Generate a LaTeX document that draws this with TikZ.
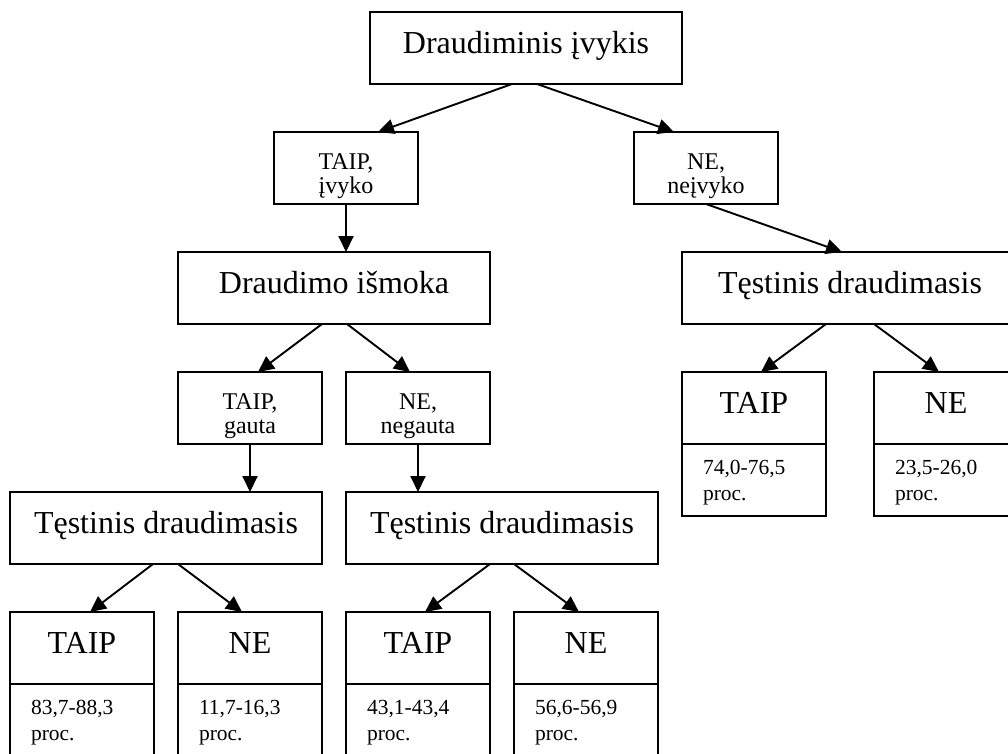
\documentclass[tikz,border=0pt]{standalone}
\usepackage{fontspec}
\setmainfont{Liberation Serif}
\usetikzlibrary{positioning,arrows.meta}

\tikzset{
  box/.style={draw, line width=1.9pt, inner sep=0pt, outer sep=0pt, minimum height=72pt},
  bigbox/.style={box, minimum width=312pt, font=\fontsize{32}{36}\selectfont, text height=22pt, text depth=12pt},
  yesno/.style={box, minimum width=144pt, text width=144pt, align=center, font=\fontsize{24}{24}\selectfont, text height=18pt, text depth=16pt},
  answer/.style={box, minimum width=144pt, font=\fontsize{32}{36}\selectfont, text height=22pt, text depth=12pt},
  share/.style={box, minimum width=144pt, text width=102pt, inner xsep=21pt, align=left, font=\fontsize{21.5}{26}\selectfont, text height=14pt, text depth=26pt},
  link/.style={line width=1.9pt, -{Triangle[length=16pt,width=15pt]}}
}

\begin{document}
\begin{tikzpicture}[x=1pt,y=-1pt]
        \useasboundingbox (0,0) rectangle (1008,753);

        % Top of the tree
        \node[bigbox, anchor=north west] (event) at (370,12) {Draudiminis įvykis};
        \node[yesno, anchor=north west] (happened) at (274,132) {TAIP,\\įvyko};
        \node[yesno, anchor=north west] (nothappened) at (634,132) {NE,\\neįvyko};

        % Second level
        \node[bigbox, anchor=north west] (payout) at (178,252) {Draudimo išmoka};
        \node[bigbox, anchor=north west, minimum width=336pt] (contR) at (682,252) {Tęstinis draudimasis};
        \node[yesno, anchor=north west] (got) at (178,372) {TAIP,\\gauta};
        \node[yesno, anchor=north west] (notgot) at (346,372) {NE,\\negauta};

        % Answers on the right
        \node[answer, anchor=north west] (rYes) at (682,372) {TAIP};
        \node[share, below=0pt of rYes] (rYes-p) {74,0-76,5\\proc.};
        \node[answer, anchor=north west] (rNo) at (874,372) {NE};
        \node[share, below=0pt of rNo] (rNo-p) {23,5-26,0\\proc.};

        % Third level
        \node[bigbox, anchor=north west] (contA) at (10,492) {Tęstinis draudimasis};
        \node[bigbox, anchor=north west] (contB) at (346,492) {Tęstinis draudimasis};

        % Answers at the bottom
        \foreach \name/\x/\ans/\pct in {aYes/10/TAIP/{83,7-88,3}, aNo/178/NE/{11,7-16,3}, bYes/346/TAIP/{43,1-43,4}, bNo/514/NE/{56,6-56,9}} {
                \node[answer, anchor=north west] (\name) at (\x,612) {\ans};
                \node[share, below=0pt of \name] (\name-p) {\pct\\proc.};
            }

        % Arrows
        \draw[link] ([xshift=-14pt]event.south) -- ([xshift=32pt]happened.north);
        \draw[link] ([xshift=11pt]event.south) -- ([xshift=-32pt]nothappened.north);
        \draw[link] (happened.south) -- (happened.south |- payout.north);
        \draw[link] (nothappened.south) -- ([xshift=-8pt]contR.north);
        \draw[link] ([xshift=-12pt]payout.south) -- ([xshift=8pt]got.north);
        \draw[link] ([xshift=13pt]payout.south) -- ([xshift=-8pt]notgot.north);
        \draw[link] ([xshift=-24pt]contR.south) -- ([xshift=7pt]rYes.north);
        \draw[link] ([xshift=24pt]contR.south) -- ([xshift=-7pt]rNo.north);
        \draw[link] (got.south) -- (got.south |- contA.north);
        \draw[link] (notgot.south) -- (notgot.south |- contB.north);
        \draw[link] ([xshift=-13pt]contA.south) -- ([xshift=8pt]aYes.north);
        \draw[link] ([xshift=12pt]contA.south) -- ([xshift=-8pt]aNo.north);
        \draw[link] ([xshift=-12pt]contB.south) -- ([xshift=7pt]bYes.north);
        \draw[link] ([xshift=12pt]contB.south) -- ([xshift=-7pt]bNo.north);
    \end{tikzpicture}
\end{document}
